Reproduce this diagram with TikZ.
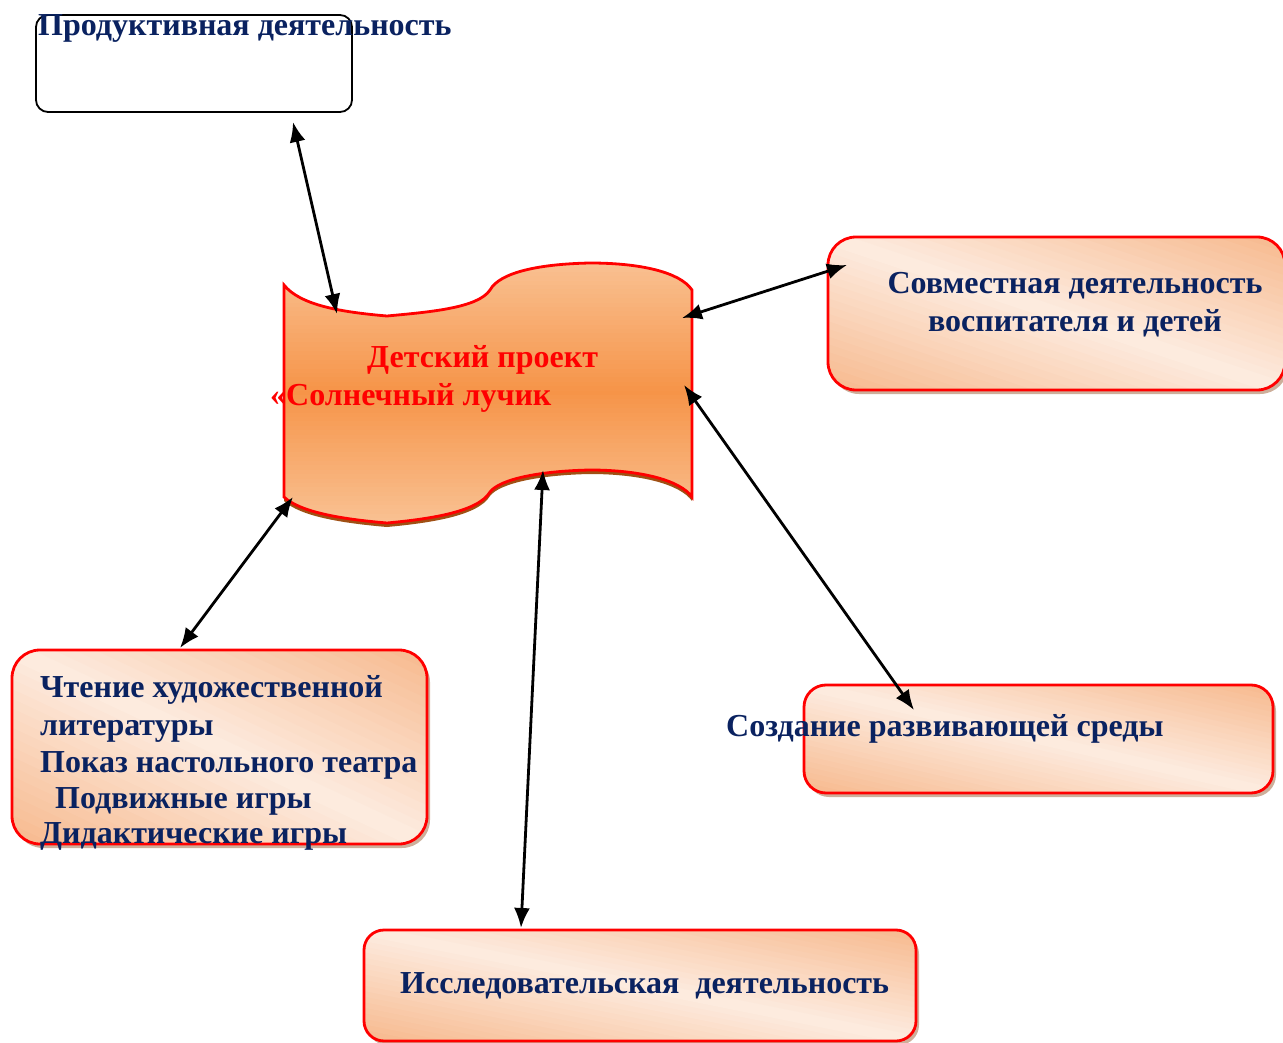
\documentclass[tikz,border=0pt]{standalone}
\usepackage{fontspec}
\setmainfont{Liberation Serif}
\usetikzlibrary{arrows.meta}
\definecolor{navy}{RGB}{10,34,96}
\definecolor{peachD}{RGB}{247,187,145}
\definecolor{peachL}{RGB}{253,236,224}
\definecolor{cLight}{RGB}{249,192,145}
\definecolor{cDark}{RGB}{246,148,72}
\definecolor{shadowc}{RGB}{205,175,155}
\definecolor{brownsh}{RGB}{160,80,20}
\tikzset{
  pbox/.style={draw=red, line width=2.8pt, rounded corners=28pt, rectangle, inner sep=0pt},
  lbl/.style={font=\fontsize{32}{37}\selectfont\bfseries, text=navy, inner sep=0pt},
  rlbl/.style={font=\fontsize{32}{37}\selectfont\bfseries, text=red, inner sep=0pt},
  link/.style={line width=2.8pt, {Latex[length=20pt,width=16pt]}-{Latex[length=20pt,width=16pt]}}
}
% diagonal peach gradient inside a rounded rectangle: xl, yt, xr, yb, radius
\newcommand\gradbox[5]{%
  \fill[shadowc, rounded corners=#5] (#1+3,#2+4) rectangle (#3+3,#4+4);
  \pgfmathsetmacro\gbw{#3-#1}%
  \pgfmathsetmacro\gbh{#4-#2}%
  \begin{scope}
    \clip[rounded corners=#5] (#1,#2) rectangle (#3,#4);
    \begin{scope}[shift={(#1,#4)}, x={(\gbw pt,0pt)}, y={(0pt,\gbh pt)}]
      \foreach \i in {0,...,39} {
        \pgfmathsetmacro\fa{\i/20}
        \pgfmathsetmacro\fb{(\i+1)/20+0.02}
        \pgfmathsetmacro\pp{min(100,100*abs(\fa+0.025-1)*1.05)}
        \fill[peachD!\pp!peachL] ({\fa+2},-2) -- ({\fa-2},2) -- ({\fb-2},2) -- ({\fb+2},-2) -- cycle;
      }
    \end{scope}
  \end{scope}
}
\begin{document}
\begin{tikzpicture}[x=1pt,y=-1pt]
\useasboundingbox (0,0) rectangle (1283,1043);
% top box
\node[draw=black, line width=1.8pt, rounded corners=12pt, minimum width=316pt, minimum height=97pt, inner sep=0pt, fill=white] (prod) at (194,63.5) {};
\node[lbl, anchor=base west] (prodT) at (38,36) {Продуктивная деятельность};
% center shape
\fill[brownsh] (284,289) .. controls (300,309) and (340,316) .. (387,320)
  .. controls (430,316) and (478,312) .. (490,294)
  .. controls (500,276) and (540,268) .. (590,267)
  .. controls (640,267) and (680,276) .. (692,294)
  -- (692,501)
  .. controls (680,484) and (640,474) .. (590,474)
  .. controls (540,475) and (500,483) .. (490,496)
  .. controls (478,516) and (430,523) .. (387,527)
  .. controls (340,523) and (300,516) .. (284,501) -- cycle;
\begin{scope}
\clip (284,285) .. controls (300,305) and (340,312) .. (387,316)
  .. controls (430,312) and (478,308) .. (490,290)
  .. controls (500,272) and (540,264) .. (590,263)
  .. controls (640,263) and (680,272) .. (692,290)
  -- (692,497)
  .. controls (680,480) and (640,470) .. (590,470)
  .. controls (540,471) and (500,479) .. (490,492)
  .. controls (478,512) and (430,519) .. (387,523)
  .. controls (340,519) and (300,512) .. (284,497) -- cycle;
\foreach \i in {0,...,59} {
  \pgfmathsetmacro\yy{263+\i*4.4}
  \pgfmathsetmacro\pp{max(0,100*(1-abs(\yy+2.2-392)/128))}
  \fill[cDark!\pp!cLight] (280,\yy) rectangle (700,\yy+4.8);
}
\end{scope}
\draw[red, line width=2.8pt]
  (284,285) .. controls (300,305) and (340,312) .. (387,316)
  .. controls (430,312) and (478,308) .. (490,290)
  .. controls (500,272) and (540,264) .. (590,263)
  .. controls (640,263) and (680,272) .. (692,290)
  -- (692,497)
  .. controls (680,480) and (640,470) .. (590,470)
  .. controls (540,471) and (500,479) .. (490,492)
  .. controls (478,512) and (430,519) .. (387,523)
  .. controls (340,519) and (300,512) .. (284,497) -- cycle;
\node[rlbl, anchor=base west] (ctr1) at (367,367) {Детский проект};
\node[rlbl, anchor=base west] (ctr2) at (270,405) {«Солнечный лучик};
% boxes
\gradbox{828}{237}{1285}{390}{28}
\node[pbox, minimum width=457pt, minimum height=153pt] (sovm) at (1056.5,313.5) {};
\node[lbl, anchor=base] (sovm1) at (1075,294) {Совместная деятельность};
\node[lbl, anchor=base] (sovm2) at (1075,331) {воспитателя и детей};
\gradbox{12}{650}{427}{844}{28}
\node[pbox, minimum width=415pt, minimum height=194pt] (chten) at (219.5,747) {};
\node[lbl, anchor=base west] (ch1) at (40,697) {Чтение художественной};
\node[lbl, anchor=base west] (ch2) at (40,735) {литературы};
\node[lbl, anchor=base west] (ch3) at (40,772) {Показ настольного театра};
\node[lbl, anchor=base west] (ch4) at (55,808) {Подвижные игры};
\node[lbl, anchor=base west] (ch5) at (40,843) {Дидактические игры};
\gradbox{804}{685}{1273}{793}{22}
\node[pbox, rounded corners=22pt, minimum width=469pt, minimum height=108pt] (sozd) at (1038.5,739) {};
\node[lbl, anchor=base west] (sozdT) at (726,736) {Создание развивающей среды};
\gradbox{364}{930}{916}{1041}{20}
\node[pbox, rounded corners=20pt, minimum width=552pt, minimum height=111pt] (issl) at (640,985.5) {};
\node[lbl, anchor=base west] (isslT) at (400,993) {Исследовательская\ \ деятельность};
% connector end points
\coordinate (pT) at (293,122);
\coordinate (cT) at (337,314);
\coordinate (cR1) at (682,318);
\coordinate (sT) at (847,265);
\coordinate (cR2) at (684,385);
\coordinate (zT) at (914,710);
\coordinate (cB) at (543,470);
\coordinate (iT) at (521,928);
\coordinate (cL) at (293,497);
\coordinate (lT) at (180,648);
\draw[link] (pT) -- (cT);
\draw[link] (cR1) -- (sT);
\draw[link] (cR2) -- (zT);
\draw[link] (cB) -- (iT);
\draw[link] (cL) -- (lT);
\end{tikzpicture}
\end{document}
